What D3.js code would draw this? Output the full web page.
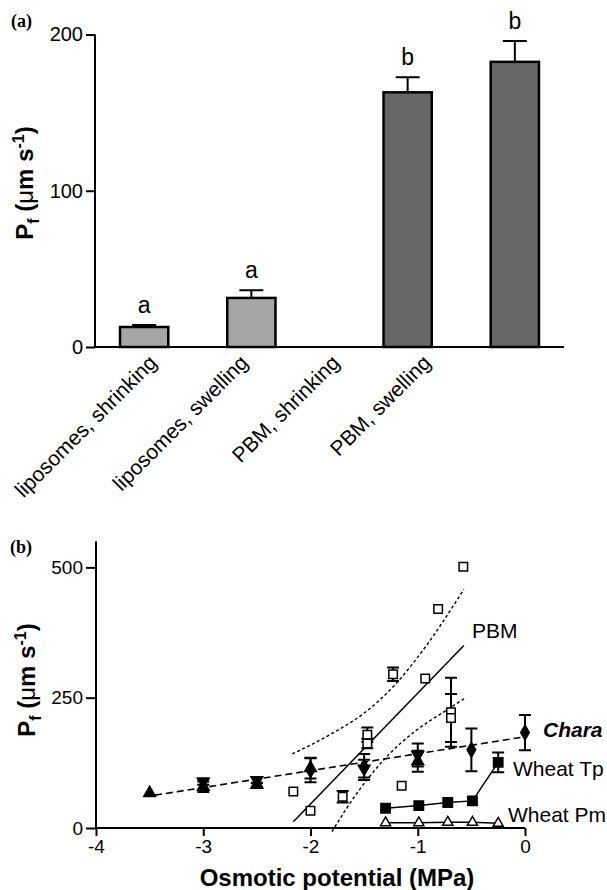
<!DOCTYPE html>
<html>
<head>
<meta charset="utf-8">
<script src="https://d3js.org/d3.v7.min.js"></script>
<style>
  body { margin: 0; background: #fff; }
  svg { display: block; font-family: "Liberation Sans", Arial, sans-serif; }
</style>
</head>
<body>
<svg id="chart" width="607" height="890"></svg>
<script>
// ---- panel (a) data
var barCats = ["liposomes, shrinking", "liposomes, swelling", "PBM, shrinking", "PBM, swelling"];
var barGroup = ["liposomes", "liposomes", "PBM", "PBM"];
var barCond = ["shrinking", "swelling", "shrinking", "swelling"];
var barValues = [12.8, 31.4, 163, 182.5];
var barErrors = [1.3, 5, 9.6, 13.4];
var barLetters = ["a", "a", "b", "b"];
var yTicksA = [0, 100, 200];

// ---- panel (b) data
var xTicksB = [-4, -3, -2, -1, 0];
var yTicksB = [0, 250, 500];

// PBM (open squares)
var pbmX = [-2.16, -2.0, -1.7, -1.47, -1.47, -1.23, -1.15, -0.93, -0.81, -0.69, -0.69, -0.575];
var pbmY = [70, 33, 60, 179, 162, 295, 81, 287, 420, 222, 211, 501];
var pbmErr = [0, 0, 11, 14, 9, 13, 0, 0, 0, 66, 46, 0];
var pbmFitX = [-2.16, -0.57];
var pbmFitY = [12, 350];
var pbmUpperX = [-2.17, -1.82, -1.49, -1.22, -0.93, -0.57];
var pbmUpperY = [142, 179, 222, 273, 347, 458];
var pbmLowerX = [-1.80, -1.59, -1.32, -1.01, -0.77, -0.56];
var pbmLowerY = [-7, 60, 130, 188, 221, 249];

// Chara (filled diamonds / triangles)
var charaDiaX = [-2, -1.5, -0.5, 0];
var charaDiaY = [111, 117, 150, 183];
var charaDiaErr = [23, 25, 41, 34];
var triUpX = [-3.5, -3, -2.5, -2, -1];
var triUpY = [67, 79, 83, 115, 128];
var triUpErr = [0, 10, 4, 20, 20];
var triDownX = [-3, -2.5, -1.5, -1];
var triDownY = [89, 92, 114, 140];
var triDownErr = [6, 6, 17, 22];
var charaFitX = [-3.45, 0];
var charaFitY = [63, 175];

// Wheat
var tpX = [-1.3, -0.99, -0.72, -0.49, -0.25];
var tpY = [38, 43, 49, 52, 126];
var tpErr = [0, 0, 0, 0, 19];
var pmX = [-1.3, -0.99, -0.72, -0.49, -0.25];
var pmY = [10, 10, 11, 11, 9];

var svg = d3.select("svg#chart");

function zip(xs, ys, es) {
  return xs.map(function (x, i) { return {x: x, y: ys[i], e: es ? es[i] : 0}; });
}

function yLabel(g, x, y) {
  var t = g.append("text")
    .attr("transform", "translate(" + x + "," + y + ") rotate(-90)")
    .attr("text-anchor", "middle")
    .attr("font-weight", "bold")
    .attr("font-size", 24);
  t.append("tspan").text("P");
  t.append("tspan").attr("font-size", 16).attr("dy", 6).text("f");
  t.append("tspan").attr("dy", -6).text(" (");
  t.append("tspan").attr("font-weight", "normal").text("\u03bc");
  t.append("tspan").text("m s");
  t.append("tspan").attr("font-size", 16).attr("dy", -9).text("-1");
  t.append("tspan").attr("dy", 9).text(")");
}

// ================= panel (a)
function drawA() {
  var g = svg.append("g");
  var y = d3.scaleLinear().domain([0, 200]).range([347, 34.5]);
  var xGroup = d3.scaleBand().domain(["liposomes", "PBM"]).range([95, 564])
    .paddingInner(0.41).paddingOuter(0.095);
  var xCond = d3.scaleBand().domain(["shrinking", "swelling"]).range([0, xGroup.bandwidth()])
    .paddingInner(0.55);
  var xLab = d3.scalePoint().domain(barCats).range([158, 432]);

  var data = barCats.map(function (c, i) {
    return {c: c, g: barGroup[i], k: barCond[i], v: barValues[i], e: barErrors[i], l: barLetters[i]};
  });
  var bx = function (d) { return xGroup(d.g) + xCond(d.k); };
  var bw = xCond.bandwidth();

  // error bars (upper only)
  g.selectAll(".eb").data(data).enter().append("path")
    .attr("fill", "none").attr("stroke", "#000").attr("stroke-width", 2)
    .attr("d", function (d) {
      var cx = bx(d) + bw / 2, top = y(d.v + d.e);
      return "M" + cx + "," + y(d.v) + "V" + top + "M" + (cx - 12) + "," + top + "H" + (cx + 12);
    });

  g.selectAll("rect").data(data).enter().append("rect")
    .attr("x", bx)
    .attr("y", function (d) { return y(d.v); })
    .attr("width", bw)
    .attr("height", function (d) { return y(0) - y(d.v); })
    .attr("fill", function (d) { return d.g === "PBM" ? "#666666" : "#a6a6a6"; })
    .attr("stroke", "#000").attr("stroke-width", 2.5);

  g.selectAll(".let").data(data).enter().append("text")
    .attr("x", function (d) { return bx(d) + bw / 2; })
    .attr("y", function (d) { return y(d.v + d.e) - 12; })
    .attr("text-anchor", "middle").attr("font-size", 23)
    .text(function (d) { return d.l; });

  // axes
  var ya = d3.axisLeft(y).tickValues(yTicksA).tickSize(9).tickPadding(3);
  g.append("g").attr("transform", "translate(95,0)").call(ya)
    .call(function (s) {
      s.select(".domain").attr("stroke-width", 2).attr("d", "M0," + y(200) + "V" + y(0));
      s.selectAll(".tick line").attr("stroke-width", 2);
      s.selectAll(".tick text").attr("font-size", 20).attr("font-family", "Liberation Sans, Arial");
    });
  g.append("line").attr("x1", 95).attr("x2", 564).attr("y1", y(0)).attr("y2", y(0))
    .attr("stroke", "#000").attr("stroke-width", 2);

  g.selectAll(".xl").data(barCats).enter().append("text")
    .attr("transform", function (d) { return "translate(" + xLab(d) + "," + 364 + ") rotate(-45)"; })
    .attr("text-anchor", "end").attr("font-size", 21)
    .text(function (d) { return d; });

  yLabel(g, 33, 183);
  g.append("text").attr("x", 11).attr("y", 27).attr("font-family", "Liberation Serif, Times New Roman, serif")
    .attr("font-weight", "bold").attr("font-size", 18).text("(a)");
}

// ================= panel (b)
function drawB() {
  var g = svg.append("g");
  var x = d3.scaleLinear().domain([-4, 0]).range([96, 525]);
  var y = d3.scaleLinear().domain([0, 550]).range([828, 541.3]);
  var line = d3.line().x(function (d) { return x(d.x); }).y(function (d) { return y(d.y); });
  var curve = d3.line().curve(d3.curveMonotoneX).x(function (d) { return x(d.x); }).y(function (d) { return y(d.y); });

  // fit lines
  g.append("path").datum(zip(pbmFitX, pbmFitY)).attr("d", line)
    .attr("fill", "none").attr("stroke", "#000").attr("stroke-width", 1.5);
  [zip(pbmUpperX, pbmUpperY), zip(pbmLowerX, pbmLowerY)].forEach(function (b) {
    g.append("path").datum(b).attr("d", curve)
      .attr("fill", "none").attr("stroke", "#000").attr("stroke-width", 1.4)
      .attr("stroke-dasharray", "3,2.5");
  });
  g.append("path").datum(zip(charaFitX, charaFitY)).attr("d", line)
    .attr("fill", "none").attr("stroke", "#000").attr("stroke-width", 1.6)
    .attr("stroke-dasharray", "7,4");
  g.append("path").datum(zip(tpX, tpY)).attr("d", line)
    .attr("fill", "none").attr("stroke", "#000").attr("stroke-width", 1.5);
  g.append("path").datum(zip(pmX, pmY)).attr("d", line)
    .attr("fill", "none").attr("stroke", "#000").attr("stroke-width", 1.5);

  // error bars
  function errs(pts) {
    g.append("g").selectAll("path").data(pts.filter(function (d) { return d.e > 0; }))
      .enter().append("path")
      .attr("fill", "none").attr("stroke", "#000").attr("stroke-width", 2)
      .attr("d", function (d) {
        var cx = x(d.x), t = y(d.y + d.e), b = y(d.y - d.e);
        return "M" + cx + "," + t + "V" + b +
          "M" + (cx - 6) + "," + t + "H" + (cx + 6) +
          "M" + (cx - 6) + "," + b + "H" + (cx + 6);
      });
  }
  var pbm = zip(pbmX, pbmY, pbmErr);
  var dia = zip(charaDiaX, charaDiaY, charaDiaErr);
  var tUp = zip(triUpX, triUpY, triUpErr);
  var tDn = zip(triDownX, triDownY, triDownErr);
  var tp = zip(tpX, tpY, tpErr);
  var pm = zip(pmX, pmY);
  [pbm, dia, tUp, tDn, tp].forEach(errs);

  function marks(pts, type, size, fill, rot) {
    g.append("g").selectAll("path").data(pts).enter().append("path")
      .attr("d", d3.symbol().type(type).size(size))
      .attr("transform", function (d) {
        return "translate(" + x(d.x) + "," + y(d.y) + ")" + (rot ? " rotate(" + rot + ")" : "");
      })
      .attr("fill", fill).attr("stroke", "#000").attr("stroke-width", 1.5);
  }
  marks(tUp, d3.symbolTriangle, 60, "#000", 0);
  marks(tDn, d3.symbolTriangle, 60, "#000", 180);
  marks(dia, d3.symbolDiamond, 64, "#000", 0);
  marks(pbm, d3.symbolSquare, 72, "#fff", 0);
  marks(tp, d3.symbolSquare, 88, "#000", 0);
  marks(pm, d3.symbolTriangle, 44, "#fff", 0);

  // axes
  var xa = d3.axisBottom(x).tickValues(xTicksB).tickSize(8).tickPadding(4).tickFormat(d3.format("d"));
  g.append("g").attr("transform", "translate(0,828)").call(xa)
    .call(function (s) {
      s.select(".domain").attr("stroke-width", 2).attr("d", "M96,0H525");
      s.selectAll(".tick line").attr("stroke-width", 2);
      s.selectAll(".tick text").attr("font-size", 19).attr("font-family", "Liberation Sans, Arial")
        .text(function (d) { return d === 0 ? "0" : "-" + Math.abs(d); });
    });
  var ya = d3.axisLeft(y).tickValues(yTicksB).tickSize(10).tickPadding(3);
  g.append("g").attr("transform", "translate(96,0)").call(ya)
    .call(function (s) {
      s.select(".domain").attr("stroke-width", 2).attr("d", "M0," + y(550) + "V" + y(0));
      s.selectAll(".tick line").attr("stroke-width", 2);
      s.selectAll(".tick text").attr("font-size", 19).attr("font-family", "Liberation Sans, Arial");
    });

  g.append("text").attr("x", 337).attr("y", 886).attr("text-anchor", "middle")
    .attr("font-weight", "bold").attr("font-size", 24).text("Osmotic potential (MPa)");
  yLabel(g, 35, 680);
  g.append("text").attr("x", 10).attr("y", 553).attr("font-family", "Liberation Serif, Times New Roman, serif")
    .attr("font-weight", "bold").attr("font-size", 18).text("(b)");

  // series labels
  g.append("text").attr("x", 472).attr("y", 638).attr("font-size", 21).text("PBM");
  g.append("text").attr("x", 543).attr("y", 737).attr("font-size", 21)
    .attr("font-weight", "bold").attr("font-style", "italic").text("Chara");
  g.append("text").attr("x", 513).attr("y", 776).attr("font-size", 21).text("Wheat Tp");
  g.append("text").attr("x", 508).attr("y", 822).attr("font-size", 21).text("Wheat Pm");
}

drawA();
drawB();
</script>
</body>
</html>
